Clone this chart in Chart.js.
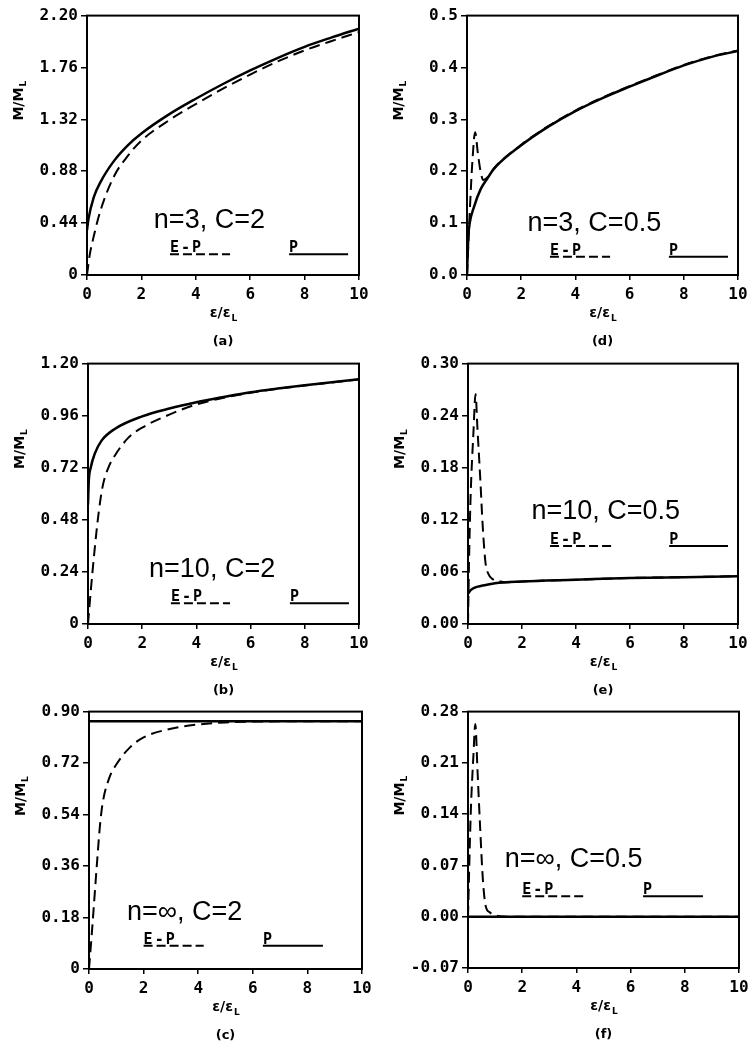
<!DOCTYPE html>
<html>
<head>
<meta charset="utf-8">
<script src="https://cdn.jsdelivr.net/npm/chart.js@4.4.1/dist/chart.umd.min.js"></script>
<style>
  body { margin: 0; background: #fff; width: 750px; height: 1048px; overflow: hidden; position: relative; }
  canvas { position: absolute; }
</style>
</head>
<body>
<script>
// x ticks, common to all panels
const xTickVals = [0, 2, 4, 6, 8, 10];

// (a) n=3, C=2
const aYTicks = [0, 0.44, 0.88, 1.32, 1.76, 2.2];
const aYLabels = ["0", "0.44", "0.88", "1.32", "1.76", "2.20"];
const aPx = [0, 0.05, 0.25, 0.5, 1, 1.5, 2, 3, 4, 5, 6, 7, 8, 9, 10];
const aPy = [0.38, 0.47, 0.66, 0.79, 0.97, 1.1, 1.2, 1.36, 1.495, 1.62, 1.735, 1.84, 1.935, 2.015, 2.09];
const aEPx = [0, 0.1, 0.25, 0.5, 1, 1.5, 2, 3, 4, 5, 6, 7, 8, 9, 10];
const aEPy = [0, 0.17, 0.33, 0.55, 0.84, 1.01, 1.14, 1.31, 1.45, 1.58, 1.7, 1.81, 1.905, 1.985, 2.06];

// (d) n=3, C=0.5
const dYTicks = [0, 0.1, 0.2, 0.3, 0.4, 0.5];
const dYLabels = ["0.0", "0.1", "0.2", "0.3", "0.4", "0.5"];
const dPx = [0, 0.05, 0.1, 0.25, 0.5, 0.75, 1, 2, 3, 4, 5, 6, 7, 8, 9, 10];
const dPy = [0, 0.075, 0.1, 0.13, 0.165, 0.186, 0.205, 0.25, 0.286, 0.316, 0.341, 0.363, 0.384, 0.404, 0.42, 0.432];
const dEPx = [0, 0.1, 0.2, 0.3, 0.4, 0.5, 0.6, 0.75, 1, 2, 3, 4, 5, 6, 7, 8, 9, 10];
const dEPy = [0, 0.12, 0.22, 0.275, 0.235, 0.2, 0.183, 0.188, 0.206, 0.251, 0.287, 0.317, 0.342, 0.364, 0.385, 0.405, 0.421, 0.433];

// (b) n=10, C=2
const bYTicks = [0, 0.24, 0.48, 0.72, 0.96, 1.2];
const bYLabels = ["0", "0.24", "0.48", "0.72", "0.96", "1.20"];
const bPx = [0, 0.03, 0.1, 0.25, 0.5, 1, 2, 3, 4, 5, 6, 7, 8, 9, 10];
const bPy = [0.55, 0.66, 0.72, 0.785, 0.845, 0.9, 0.957, 0.993, 1.022, 1.046, 1.068, 1.085, 1.1, 1.114, 1.128];
const bEPx = [0, 0.1, 0.25, 0.4, 0.55, 0.75, 1, 1.5, 2, 3, 4, 5, 6, 7, 8, 9, 10];
const bEPy = [0, 0.15, 0.35, 0.52, 0.64, 0.72, 0.778, 0.86, 0.905, 0.965, 1.012, 1.042, 1.066, 1.084, 1.099, 1.113, 1.127];

// (e) n=10, C=0.5
const eYTicks = [0, 0.06, 0.12, 0.18, 0.24, 0.3];
const eYLabels = ["0.00", "0.06", "0.12", "0.18", "0.24", "0.30"];
const ePx = [0, 0.1, 0.25, 0.5, 1, 2, 4, 6, 8, 10];
const ePy = [0.035, 0.039, 0.042, 0.044, 0.047, 0.049, 0.051, 0.053, 0.054, 0.055];
const eEPx = [0, 0.05, 0.1, 0.2, 0.28, 0.35, 0.45, 0.55, 0.65, 0.75, 0.9, 1.2, 1.5, 2, 4, 6, 8, 10];
const eEPy = [0, 0.09, 0.15, 0.22, 0.265, 0.225, 0.17, 0.11, 0.07, 0.058, 0.052, 0.049, 0.048, 0.049, 0.051, 0.053, 0.054, 0.055];

// (c) n=inf, C=2
const cYTicks = [0, 0.18, 0.36, 0.54, 0.72, 0.9];
const cYLabels = ["0", "0.18", "0.36", "0.54", "0.72", "0.90"];
const cPx = [0, 10];
const cPy = [0.866, 0.866];
const cEPx = [0, 0.1, 0.2, 0.3, 0.4, 0.5, 0.75, 1, 1.5, 2, 3, 4, 5, 6, 8, 10];
const cEPy = [0, 0.12, 0.25, 0.38, 0.5, 0.58, 0.67, 0.715, 0.775, 0.81, 0.84, 0.855, 0.862, 0.865, 0.866, 0.866];

// (f) n=inf, C=0.5
const fYTicks = [-0.07, 0, 0.07, 0.14, 0.21, 0.28];
const fYLabels = ["-0.07", "0.00", "0.07", "0.14", "0.21", "0.28"];
const fPx = [0, 10];
const fPy = [0, 0];
const fEPx = [0, 0.1, 0.2, 0.27, 0.35, 0.45, 0.55, 0.65, 0.8, 1, 1.5, 10];
const fEPy = [0, 0.14, 0.22, 0.263, 0.2, 0.12, 0.05, 0.015, 0.006, 0.002, 0, 0];

const panels = [
  { cap: "(a)", box: [87, 15, 272, 260], yMin: 0, yMax: 2.2, yT: aYTicks, yL: aYLabels, p: [aPx, aPy], ep: [aEPx, aEPy],
    note: "n=3, C=2", noteX: 0.45, noteY: 0.82, legY: 0.92, epL: [0.305, 0.526], pL: [0.743, 0.96] },
  { cap: "(d)", box: [467, 15, 271, 260], yMin: 0, yMax: 0.5, yT: dYTicks, yL: dYLabels, p: [dPx, dPy], ep: [dEPx, dEPy],
    note: "n=3, C=0.5", noteX: 0.47, noteY: 0.83, legY: 0.93, epL: [0.306, 0.528], pL: [0.745, 0.963] },
  { cap: "(b)", box: [88, 363, 271, 261], yMin: 0, yMax: 1.2, yT: bYTicks, yL: bYLabels, p: [bPx, bPy], ep: [bEPx, bEPy],
    note: "n=10, C=2", noteX: 0.458, noteY: 0.82, legY: 0.92, epL: [0.306, 0.524], pL: [0.745, 0.963] },
  { cap: "(e)", box: [468, 363, 270, 261], yMin: 0, yMax: 0.3, yT: eYTicks, yL: eYLabels, p: [ePx, ePy], ep: [eEPx, eEPy],
    note: "n=10, C=0.5", noteX: 0.51, noteY: 0.595, legY: 0.70, epL: [0.304, 0.53], pL: [0.745, 0.963] },
  { cap: "(c)", box: [89, 711, 273, 258], yMin: 0, yMax: 0.9, yT: cYTicks, yL: cYLabels, p: [cPx, cPy], ep: [cEPx, cEPy],
    note: "n=\u221e, C=2", noteX: 0.35, noteY: 0.81, legY: 0.91, epL: [0.20, 0.42], pL: [0.637, 0.857] },
  { cap: "(f)", box: [468, 711, 271, 257], yMin: -0.07, yMax: 0.28, yT: fYTicks, yL: fYLabels, p: [fPx, fPy], ep: [fEPx, fEPy],
    note: "n=\u221e, C=0.5", noteX: 0.39, noteY: 0.607, legY: 0.72, epL: [0.20, 0.425], pL: [0.646, 0.867] }
];

const PAD_L = 85, PAD_T = 12, PAD_R = 18, PAD_B = 75;
const tickFont = { family: "'DejaVu Sans Mono'", size: 16, weight: "bold" };

// frame, labels, note and little legend
const panelText = {
  id: "panelText",
  afterDraw(chart, args, o) {
    const ctx = chart.ctx, ca = chart.chartArea;
    ctx.save();
    ctx.strokeStyle = "#000";
    ctx.lineWidth = 2;
    ctx.strokeRect(ca.left, ca.top, ca.width, ca.height);
    ctx.fillStyle = "#000";

    // y label M/M_L, rotated
    ctx.save();
    ctx.translate(ca.left - 69, ca.top + 0.33 * ca.height);
    ctx.rotate(-Math.PI / 2);
    ctx.font = "bold 14px 'DejaVu Sans'";
    const w1 = ctx.measureText("M/M").width;
    ctx.font = "bold 9px 'DejaVu Sans'";
    const w2 = ctx.measureText("L").width;
    ctx.textAlign = "left";
    ctx.textBaseline = "alphabetic";
    ctx.font = "bold 14px 'DejaVu Sans'";
    ctx.fillText("M/M", -(w1 + w2) / 2, 5);
    ctx.font = "bold 9px 'DejaVu Sans'";
    ctx.fillText("L", -(w1 + w2) / 2 + w1 + 1, 8);
    ctx.restore();

    // x label eps/eps_L
    ctx.font = "bold 14px 'DejaVu Sans'";
    const xm = ctx.measureText("\u03b5/\u03b5").width;
    ctx.font = "bold 9px 'DejaVu Sans'";
    const xs = ctx.measureText("L").width;
    const xc = ca.left + ca.width / 2;
    ctx.textAlign = "left";
    ctx.font = "bold 14px 'DejaVu Sans'";
    ctx.fillText("\u03b5/\u03b5", xc - (xm + xs) / 2, ca.bottom + 42);
    ctx.font = "bold 9px 'DejaVu Sans'";
    ctx.fillText("L", xc - (xm + xs) / 2 + xm + 1, ca.bottom + 46);

    // caption
    ctx.textAlign = "center";
    ctx.font = "bold 13px 'DejaVu Sans'";
    ctx.fillText(o.cap, xc, ca.bottom + 70);

    // n, C note
    ctx.font = "27px 'Liberation Sans'";
    ctx.fillText(o.note, ca.left + o.noteX * ca.width, ca.top + o.noteY * ca.height);

    // legend
    const ly = ca.top + o.legY * ca.height;
    ctx.textAlign = "left";
    ctx.font = "bold 15px 'DejaVu Sans Mono'";
    ctx.letterSpacing = "2px";
    ctx.fillText("E-P", ca.left + o.epL[0] * ca.width, ly - 2);
    ctx.fillText("P", ca.left + o.pL[0] * ca.width, ly - 2);
    ctx.letterSpacing = "0px";
    ctx.lineWidth = 2;
    ctx.setLineDash([9, 4]);
    ctx.beginPath();
    ctx.moveTo(ca.left + o.epL[0] * ca.width, ly);
    ctx.lineTo(ca.left + o.epL[1] * ca.width, ly);
    ctx.stroke();
    ctx.setLineDash([]);
    ctx.beginPath();
    ctx.moveTo(ca.left + o.pL[0] * ca.width, ly);
    ctx.lineTo(ca.left + o.pL[1] * ca.width, ly);
    ctx.stroke();
    ctx.restore();
  }
};

function pts(xs, ys) {
  return xs.map((x, i) => ({ x: x, y: ys[i] }));
}

panels.forEach(pn => {
  const [l, t, w, h] = pn.box;
  const cv = document.createElement("canvas");
  cv.width = w + PAD_L + PAD_R;
  cv.height = h + PAD_T + PAD_B;
  cv.style.left = (l - PAD_L) + "px";
  cv.style.top = (t - PAD_T) + "px";
  document.body.appendChild(cv);

  new Chart(cv, {
    type: "scatter",
    data: {
      datasets: [
        { label: "P", data: pts(pn.p[0], pn.p[1]), showLine: true, borderColor: "#000", borderWidth: 2.5,
          pointRadius: 0, cubicInterpolationMode: "monotone" },
        { label: "E-P", data: pts(pn.ep[0], pn.ep[1]), showLine: true, borderColor: "#000", borderWidth: 2,
          borderDash: [11, 6], pointRadius: 0, cubicInterpolationMode: "monotone" }
      ]
    },
    options: {
      responsive: false,
      animation: false,
      devicePixelRatio: 1,
      layout: { padding: { left: 0, top: PAD_T, right: PAD_R, bottom: 0 } },
      plugins: {
        legend: { display: false },
        tooltip: { enabled: false },
        panelText: pn
      },
      scales: {
        x: {
          type: "linear", min: 0, max: 10,
          afterBuildTicks: s => { s.ticks = xTickVals.map(v => ({ value: v })); },
          afterFit: s => { s.height = PAD_B; },
          ticks: { color: "#000", font: tickFont, padding: 5, maxRotation: 0, autoSkip: false, callback: v => String(v) },
          grid: { drawOnChartArea: false, tickLength: 5, color: "#000", lineWidth: 1.5 },
          border: { display: false }
        },
        y: {
          type: "linear", min: pn.yMin, max: pn.yMax,
          afterBuildTicks: s => { s.ticks = pn.yT.map(v => ({ value: v })); },
          afterFit: s => { s.width = PAD_L; },
          ticks: { color: "#000", font: tickFont, padding: 3, autoSkip: false, callback: (v, i) => pn.yL[i] },
          grid: { drawOnChartArea: false, tickLength: 6, color: "#000", lineWidth: 1.5 },
          border: { display: false }
        }
      }
    },
    plugins: [panelText]
  });
});
</script>
</body>
</html>
